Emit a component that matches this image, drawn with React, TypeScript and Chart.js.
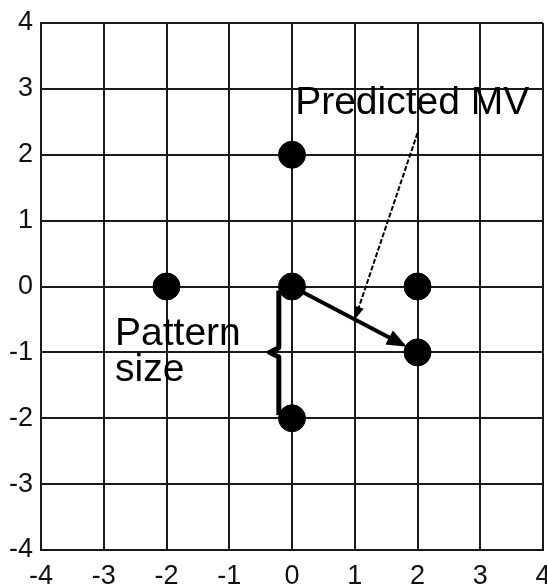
import React, { useEffect, useRef } from "react";
import { Chart, registerables } from "chart.js";

Chart.register(...registerables);

// Axis ticks
const xTickValues = [-4, -3, -2, -1, 0, 1, 2, 3, 4];
const yTickValues = [-4, -3, -2, -1, 0, 1, 2, 3, 4];

// Search points
const pointX = [0, -2, 0, 2, 2, 0];
const pointY = [2, 0, 0, 0, -1, -2];

// Motion vector arrow (from centre to predicted point)
const mvArrowFrom = [0, 0];
const mvArrowTo = [2, -1];

// Callout arrow from the label to the MV arrow
const calloutFrom = [2, 2.33];
const calloutTo = [1, -0.5];

// Bracket (pattern size)
const bracketX = [-0.21, -0.21, -0.36, -0.21, -0.21];
const bracketY = [-0.06, -0.93, -1.0, -1.07, -1.95];

// Text labels
const labelTexts = ["Predicted MV", "Pattern", "size"];
const labelX = [0.05, -2.82, -2.82];
const labelY = [2.625, -0.895, -1.44];

const FONT = "'Liberation Sans', Arial, Helvetica, sans-serif";

function drawArrowHead(ctx: CanvasRenderingContext2D, x1: number, y1: number, x2: number, y2: number, len: number, half: number) {
  const a = Math.atan2(y2 - y1, x2 - x1);
  ctx.beginPath();
  ctx.moveTo(x2, y2);
  ctx.lineTo(x2 - len * Math.cos(a) + half * Math.sin(a), y2 - len * Math.sin(a) - half * Math.cos(a));
  ctx.lineTo(x2 - len * Math.cos(a) - half * Math.sin(a), y2 - len * Math.sin(a) + half * Math.cos(a));
  ctx.closePath();
  ctx.fill();
}

const annotationPlugin = {
  id: "annotations",
  afterDatasetsDraw(chart: any) {
    const ctx: CanvasRenderingContext2D = chart.ctx;
    const xs = chart.scales.x;
    const ys = chart.scales.y;
    const px = (v: number) => xs.getPixelForValue(v);
    const py = (v: number) => ys.getPixelForValue(v);
    ctx.save();
    ctx.fillStyle = "#000";
    ctx.strokeStyle = "#000";

    // Thick MV arrow
    {
      const x1 = px(mvArrowFrom[0]), y1 = py(mvArrowFrom[1]);
      const xc = px(mvArrowTo[0]), yc = py(mvArrowTo[1]);
      const a = Math.atan2(yc - y1, xc - x1);
      const inset = 12;
      const x2 = xc - inset * Math.cos(a), y2 = yc - inset * Math.sin(a);
      ctx.lineWidth = 4;
      ctx.lineCap = "butt";
      ctx.beginPath();
      ctx.moveTo(x1, y1);
      ctx.lineTo(x2 - 14 * Math.cos(a), y2 - 14 * Math.sin(a));
      ctx.stroke();
      drawArrowHead(ctx, x1, y1, x2, y2, 20, 8);
    }

    // Thin dashed callout arrow
    {
      const x1 = px(calloutFrom[0]), y1 = py(calloutFrom[1]);
      const x2 = px(calloutTo[0]), y2 = py(calloutTo[1]);
      const a = Math.atan2(y2 - y1, x2 - x1);
      ctx.lineWidth = 2;
      ctx.setLineDash([5, 2]);
      ctx.beginPath();
      ctx.moveTo(x1, y1);
      ctx.lineTo(x2 - 10 * Math.cos(a), y2 - 10 * Math.sin(a));
      ctx.stroke();
      ctx.setLineDash([]);
      drawArrowHead(ctx, x1, y1, x2, y2, 13, 5);
    }

    // Bracket
    ctx.lineWidth = 5;
    ctx.lineJoin = "round";
    ctx.beginPath();
    bracketX.forEach((bx, i) => {
      const X = px(bx), Y = py(bracketY[i]);
      if (i === 0) ctx.moveTo(X, Y);
      else ctx.lineTo(X, Y);
    });
    ctx.stroke();

    // Labels
    ctx.font = `39px ${FONT}`;
    ctx.textAlign = "left";
    ctx.textBaseline = "alphabetic";
    labelTexts.forEach((t, i) => {
      ctx.fillText(t, px(labelX[i]), py(labelY[i]));
    });
    ctx.restore();
  },
};

export default function App() {
  const ref = useRef<HTMLCanvasElement | null>(null);
  useEffect(() => {
    document.body.style.margin = "0";
    const canvas = ref.current!;
    const chart = new Chart(canvas, {
      type: "scatter",
      data: {
        datasets: [
          {
            data: pointX.map((x, i) => ({ x, y: pointY[i] })),
            backgroundColor: "#000",
            borderColor: "#000",
            borderWidth: 1,
            pointRadius: 13.5,
            pointHoverRadius: 13.5,
          },
        ],
      },
      options: {
        responsive: false,
        animation: false,
        events: [],
        layout: { autoPadding: false, padding: { left: 0, top: 23, right: 4, bottom: 0 } },
        plugins: { legend: { display: false }, tooltip: { enabled: false } },
        scales: {
          x: {
            type: "linear",
            min: -4,
            max: 4,
            afterBuildTicks: (s: any) => {
              s.ticks = xTickValues.map((v) => ({ value: v }));
            },
            afterFit: (s: any) => {
              s.height = 36;
              s.paddingLeft = 0;
              s.paddingRight = 0;
            },
            grid: { color: "#1a1a1a", lineWidth: 2, drawTicks: false },
            border: { color: "#1a1a1a", width: 2 },
            ticks: {
              padding: 10,
              color: "#111",
              maxRotation: 0,
              autoSkip: false,
              font: { family: FONT, size: 27 },
              callback: (v: any) => String(v),
            },
          },
          y: {
            type: "linear",
            min: -4,
            max: 4,
            afterBuildTicks: (s: any) => {
              s.ticks = yTickValues.map((v) => ({ value: v }));
            },
            afterFit: (s: any) => {
              s.width = 41;
              s.paddingTop = 0;
              s.paddingBottom = 0;
            },
            grid: { color: "#1a1a1a", lineWidth: 2, drawTicks: false },
            border: { color: "#1a1a1a", width: 2 },
            ticks: {
              padding: 8,
              color: "#111",
              autoSkip: false,
              font: { family: FONT, size: 27 },
              callback: (v: any) => String(v),
            },
          },
        },
      },
      plugins: [annotationPlugin],
    });
    return () => chart.destroy();
  }, []);
  return (
    <div style={{ position: "fixed", left: 0, top: 0, width: 547, height: 586, background: "#fff" }}>
      <canvas ref={ref} width={547} height={586} style={{ display: "block" }} />
    </div>
  );
}
